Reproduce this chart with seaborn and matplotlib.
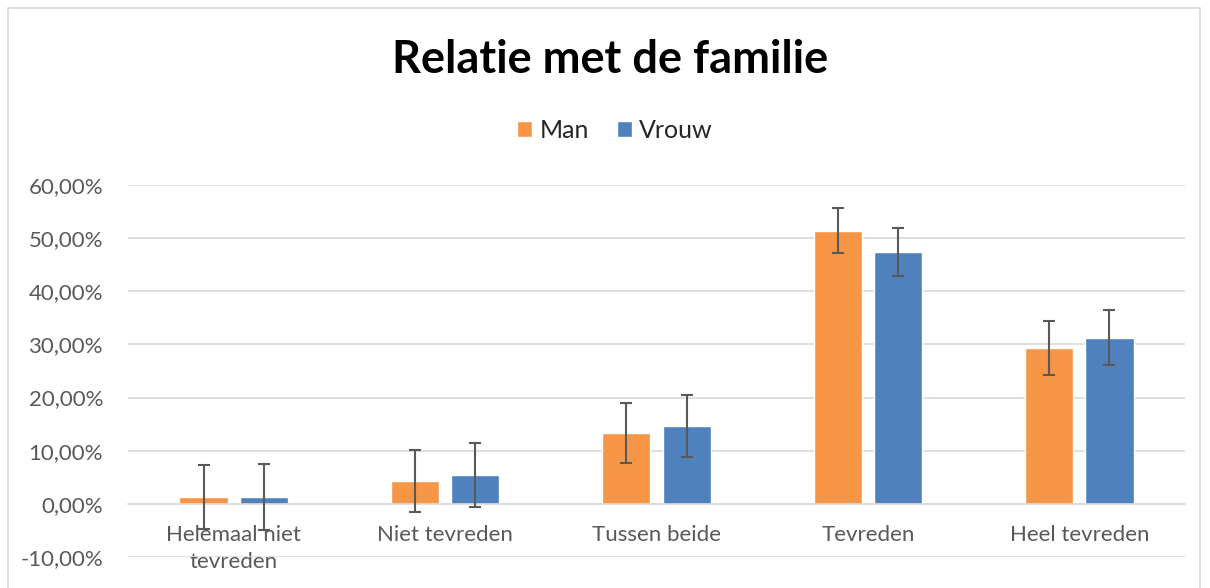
import matplotlib
matplotlib.use('Agg')
import matplotlib.pyplot as plt
import seaborn as sns
import pandas as pd
from matplotlib.patches import Rectangle
from matplotlib.ticker import FuncFormatter

categories = ['Helemaal niet\ntevreden', 'Niet tevreden', 'Tussen beide', 'Tevreden', 'Heel tevreden']
groups = ['Man', 'Vrouw']
man = [1.3, 4.3, 13.3, 51.4, 29.3]
vrouw = [1.3, 5.4, 14.6, 47.4, 31.3]
man_err = [6.0, 5.9, 5.6, 4.2, 5.1]
vrouw_err = [6.2, 6.0, 5.8, 4.5, 5.2]

df = pd.DataFrame({
    'categorie': categories * 2,
    'geslacht': [groups[0]] * 5 + [groups[1]] * 5,
    'waarde': man + vrouw,
})
errs = {'Man': man_err, 'Vrouw': vrouw_err}

sns.set_style('white')
plt.rcParams['font.family'] = ['Lato', 'DejaVu Sans']

fig = plt.figure(figsize=(12.1, 5.88), dpi=100)
ax = fig.add_axes([128/1210, 1-557/588, (1185-128)/1210, (557-185)/588])

sns.barplot(data=df, x='categorie', y='waarde', hue='geslacht', order=categories,
            hue_order=groups, palette=['#F79646', '#4F81BD'], width=0.57, gap=0.2,
            errorbar=None, saturation=1, ax=ax, legend=True)

# error bars from bar positions
for cont, g in zip(ax.containers, groups):
    xs = [b.get_x() + b.get_width()/2 for b in cont]
    hs = [b.get_height() for b in cont]
    ax.errorbar(xs, hs, yerr=errs[g], fmt='none', ecolor='#595959', elinewidth=1.5,
                capsize=4, capthick=1.5, zorder=5)

ax.set_ylim(-10, 60)
ax.set_yticks(range(-10, 61, 10))
ax.yaxis.set_major_formatter(FuncFormatter(lambda v, p: f'{v:.2f}%'.replace('.', ',')))
ax.grid(axis='y', color='#d9d9d9', linewidth=1.2)
ax.set_axisbelow(True)
for s in ['top', 'right', 'left']:
    ax.spines[s].set_visible(False)
ax.spines['bottom'].set_position(('data', 0))
ax.spines['bottom'].set_color('#d9d9d9')
ax.spines['bottom'].set_linewidth(1.2)
ax.tick_params(axis='both', length=0, labelsize=16, labelcolor='#595959')
ax.tick_params(axis='x', pad=15)
ax.tick_params(axis='y', pad=18)
for t in ax.get_xticklabels():
    t.set_linespacing(1.45)
ax.set_xlabel('')
ax.set_ylabel('')
ax.set_xlim(-0.5, 4.5)

ax.legend(loc='center', bbox_to_anchor=(615/1210, 1-130/588), bbox_transform=fig.transFigure,
          ncol=2, frameon=False, fontsize=18, handlelength=0.6, handleheight=0.6,
          handletextpad=0.3, columnspacing=1.1)

fig.text(610/1210, 1-60/588, 'Relatie met de familie', ha='center', va='center',
         fontsize=32.5, fontweight='bold', color='black')

fig.patches.append(Rectangle((8/1210, -0.05), (1200-8)/1210, 1.05-8/588,
                             transform=fig.transFigure, fill=False, edgecolor='#d9d9d9',
                             linewidth=1.2))

fig.savefig('out.png', dpi=100)
